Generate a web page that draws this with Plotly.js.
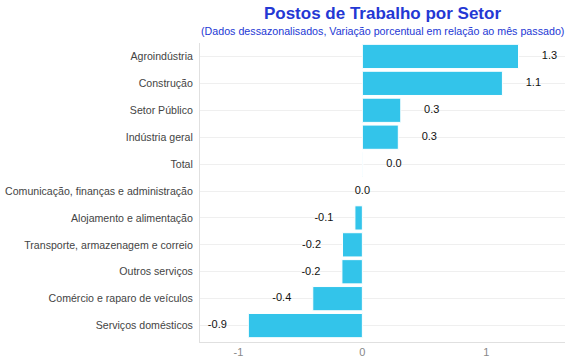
<!DOCTYPE html>
<html>
<head>
<meta charset="utf-8">
<script src="https://cdn.plot.ly/plotly-3.0.1.min.js"></script>
<style>html,body{margin:0;padding:0;background:#fff;}#chart{width:570px;height:360px;}</style>
</head>
<body>
<div id="chart"></div>
<script>
const categories = [
  "Serviços domésticos",
  "Comércio e raparo de veículos",
  "Outros serviços",
  "Transporte, armazenagem e correio",
  "Alojamento e alimentação",
  "Comunicação, finanças e administração",
  "Total",
  "Indústria geral",
  "Setor Público",
  "Construção",
  "Agroindústria"
];
const values = [-0.92, -0.40, -0.165, -0.16, -0.06, 0.0, 0.005, 0.29, 0.31, 1.13, 1.26];
const labelOffset = 0.25;

const labelX = values.map(v => v + Math.sign(v) * labelOffset);
const labelText = values.map(v => (Math.abs(v) < 0.05 ? 0 : v).toFixed(1));

const FONT = 'Liberation Sans, Arial, Helvetica, sans-serif';

const barTrace = {
  type: 'bar',
  orientation: 'h',
  y: categories,
  x: values,
  marker: {color: '#33c4ea', line: {color: '#ffffff', width: 1}},
  hoverinfo: 'x+y',
  showlegend: false
};
const textTrace = {
  type: 'scatter',
  mode: 'text',
  y: categories,
  x: labelX,
  text: labelText,
  textposition: 'middle center',
  textfont: {family: FONT, size: 11, color: '#111'},
  hoverinfo: 'skip',
  showlegend: false
};

const layout = {
  width: 570,
  height: 360,
  margin: {l: 200, r: 5, t: 43, b: 18, pad: 0},
  paper_bgcolor: '#fff',
  plot_bgcolor: '#fff',
  font: {family: FONT, size: 11, color: '#444'},
  bargap: 0.1,
  title: {
    text: '<b>Postos de Trabalho por Setor</b>',
    font: {size: 17, color: '#2438d4', family: FONT},
    x: 0.5, xref: 'paper', xanchor: 'center',
    y: 0.965, yref: 'container', yanchor: 'middle'
  },
  annotations: [{
    text: '(Dados dessazonalisados, Variação porcentual em relação ao mês passado)',
    xref: 'paper', yref: 'paper', x: 0.5, y: 1.04,
    xanchor: 'center', yanchor: 'middle', showarrow: false,
    font: {size: 10.7, color: '#2438d4', family: FONT}
  }],
  xaxis: {
    range: [-1.31, 1.635],
    tickvals: [-1, 0, 1],
    ticktext: ['-1', '0', '1'],
    showgrid: false,
    zeroline: false,
    showline: true,
    linecolor: '#e0e0e0',
    linewidth: 1,
    ticks: '',
    tickfont: {color: '#888', size: 11}
  },
  yaxis: {
    type: 'category',
    range: [-0.61, 10.5],
    showgrid: true,
    gridcolor: '#efefef',
    gridwidth: 1,
    zeroline: false,
    showline: true,
    linecolor: '#e0e0e0',
    linewidth: 1,
    ticks: '',
    ticklabelstandoff: 4,
    tickfont: {color: '#444', size: 10.6}
  }
};

Plotly.newPlot('chart', [barTrace, textTrace], layout, {displayModeBar: false, staticPlot: true});
</script>
</body>
</html>
